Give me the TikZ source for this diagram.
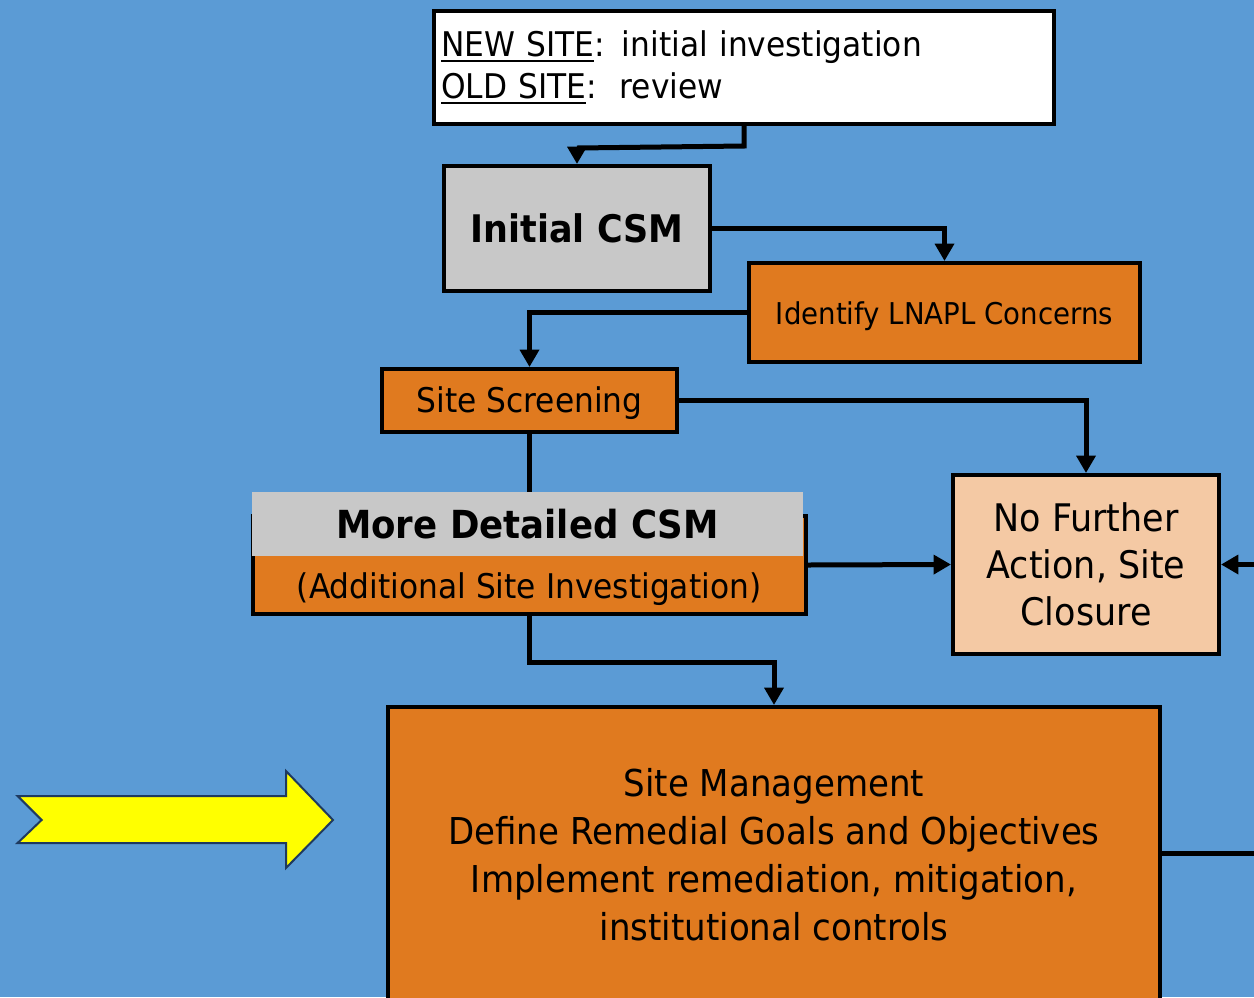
\documentclass[tikz,border=0pt]{standalone}
\usepackage{fontspec}
\setmainfont{DejaVu Sans}[FakeStretch=0.92]
\newcommand\myul[1]{\leavevmode\setbox0\hbox{#1}\rlap{\rule[-4.5pt]{\wd0}{1.5pt}}\box0}
\usetikzlibrary{arrows.meta,calc}
\definecolor{bgblue}{HTML}{5B9BD5}
\definecolor{orng}{HTML}{E07A1F}
\definecolor{grayb}{HTML}{C8C8C8}
\definecolor{peach}{HTML}{F4C9A4}
\definecolor{navy}{HTML}{1F3A5F}
\definecolor{yel}{HTML}{FFFF00}
\begin{document}
\begin{tikzpicture}[x=0.75pt,y=-0.75pt,
  box/.style={draw=black, line width=3pt, inner sep=0pt, align=center},
  conn/.style={line width=3.75pt, -{Triangle[length=13pt,width=14pt]}},
  plain/.style={line width=3.75pt}]
\useasboundingbox (0,0) rectangle (1254,997);
\clip (0,0) rectangle (1254,997);
\fill[bgblue] (0,0) rectangle (1254,997);

% top box
\node[box, fill=white, minimum width=465pt, minimum height=84.75pt,
      text width=454.5pt, align=left,
      font=\fontsize{25.5pt}{31.5pt}\selectfont] (top) at (744,67.5)
  {\myul{NEW SITE}: initial investigation\\ \myul{OLD SITE}:\ \ review};

% Initial CSM
\node[box, fill=grayb, minimum width=199.5pt, minimum height=93.75pt,
      font=\fontsize{28.5pt}{34pt}\selectfont\bfseries] (init) at (577,228.5) {Initial CSM};

% Identify LNAPL
\node[box, fill=orng, minimum width=293.25pt, minimum height=74.25pt,
      font=\fontsize{22.5pt}{27pt}\selectfont] (ident) at (944.5,312.5) {\raisebox{0pt}[20pt][1.4pt]{Identify LNAPL Concerns}};

% Site Screening
\node[box, fill=orng, minimum width=221.25pt, minimum height=47.25pt,
      font=\fontsize{25.5pt}{30pt}\selectfont] (screen) at (529.5,400.5) {\raisebox{0pt}[19pt][0.4pt]{Site Screening}};

% More Detailed CSM
\node[box, fill=orng, minimum width=414.75pt, minimum height=73.5pt] (md) at (529.5,565) {};
\node[fill=grayb, inner sep=0pt, minimum width=413.25pt, minimum height=48pt,
      font=\fontsize{29pt}{34pt}\selectfont\bfseries] (mdtitle) at (527.5,524) {More Detailed CSM};
\node[inner sep=0pt, font=\fontsize{25.5pt}{30pt}\selectfont] (mdsub) at (529,589) {(Additional Site Investigation)};

% No Further Action
\node[box, fill=peach, minimum width=199.5pt, minimum height=134.25pt,
      font=\fontsize{28.5pt}{35.25pt}\selectfont] (nfa) at (1086,564.5) {No Further\\Action, Site\\Closure};

% Site Management
\node[box, fill=orng, minimum width=579pt, minimum height=222pt,
      font=\fontsize{27.75pt}{36pt}\selectfont] (sm) at (774,855)
  {Site Management\\Define Remedial Goals and Objectives\\Implement remediation, mitigation,\\institutional controls};

% yellow arrow
\draw[navy, line width=1.5pt, fill=yel, line join=miter]
  (17.6,796) -- (286,796) -- (286,771) -- (333,820) -- (286,868) -- (286,843) -- (17.6,843) -- (41.6,820) -- cycle;

% connectors
\draw[conn] (top.south) -- ++(0,20) -- ($(init.north)+(0,-16)$) -- (init.north);
\draw[conn] (init.east) -| (ident.north);
\draw[conn] (ident.west) -| (screen.north);
\draw[conn] (screen.east) -| (nfa.north);
\draw[plain] (screen.south) -- (mdtitle.north -| screen.south);
\draw[conn] (md.east) -- (nfa.west);
\coordinate (rin) at (1262,564.5);
\draw[conn] (rin) -- (nfa.east);
\draw[conn] (md.south) -- ++(0,46) -| (sm.north);
\coordinate (rout) at (1262,853);
\draw[plain] (sm.east |- rout) -- (rout);
\end{tikzpicture}
\end{document}
